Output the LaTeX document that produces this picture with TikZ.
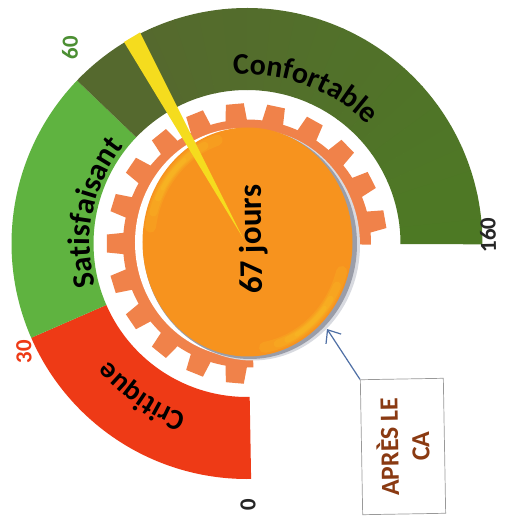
\documentclass[tikz,border=0pt]{standalone}
\usepackage{fontspec}
\setmainfont{Carlito}
\usetikzlibrary{decorations.text,arrows.meta,shapes.geometric}
\definecolor{gcrit}{HTML}{EE3A16}
\definecolor{gsat}{HTML}{5FB340}
\definecolor{gdarkA}{HTML}{55692E}
\definecolor{gdarkB}{HTML}{4D7A24}
\definecolor{gear}{HTML}{F0824A}
\definecolor{disc}{HTML}{F7931E}
\definecolor{needle}{HTML}{F5DC1E}
\definecolor{capt}{HTML}{8A3A12}
\definecolor{arrowc}{HTML}{4F6FA5}
\definecolor{shadowA}{HTML}{D8DAE0}
\definecolor{shadowB}{HTML}{9A9DA8}
\definecolor{glow}{HTML}{FBD22A}
\tikzset{
  x=1pt,y=1pt,
  curved/.style={decorate,decoration={text along path,text align={center},text={#1}}},
  numlabel/.style={font=\bfseries\fontsize{23}{23}\selectfont,rotate=91,inner sep=0pt},
}
\newcommand{\sector}[3]{\fill[#1] (#2:235.5) arc[start angle=#2,end angle=#3,radius=235.5] -- (#3:153.5) arc[start angle=#3,end angle=#2,radius=153.5] -- cycle;}
\newcommand{\rimglow}[3]{\draw[glow,line width=#3pt,opacity=.16,line cap=round] (0.5,1.5) ++(#1:98 and 107) arc[start angle=#1,end angle=#2,x radius=98,y radius=107];}
\begin{document}
\begin{tikzpicture}
\useasboundingbox (-247,-272.5) rectangle (272,243.5);
\fill[white] (-247,-272.5) rectangle (272,243.5);
\sector{gcrit}{271}{203.6}
\sector{gsat}{203.6}{136.2}
\sector{gdarkA}{136.2}{120}
\foreach \a [evaluate=\a as \p using {(120-\a)/119*100}, evaluate=\a as \b using {\a-6.2}] in {120,114,...,6}{
  \sector{gdarkB!\p!gdarkA}{\a}{\b}
}
% gear
\fill[gear] (-0.5:124) arc[start angle=-0.5,end angle=273,radius=124] -- (273:105) arc[start angle=273,end angle=-0.5,radius=105] -- cycle;
\foreach \a in {10,27,...,265}{
  \fill[gear,rotate=\a] (120,-11) -- (140,-9) -- (140,9) -- (120,11) -- cycle;
}
% white gap and shadow under the disc
\fill[white] (-4,1) ellipse[x radius=108,y radius=114.5];
\fill[shadowA] (5.5,-1.5) ellipse[x radius=107.5,y radius=115.5];
\fill[shadowB] (3,-0.5) ellipse[x radius=107,y radius=115];
% disc
\node[ellipse,minimum width=210pt,minimum height=229pt,inner sep=0pt,fill=disc] (dial) at (0.5,1.5) {};
% rim highlights
\foreach \s/\e/\w in {108/172/11,116/164/8,124/156/6,130/150/4}{\rimglow{\s}{\e}{\w}}
\foreach \s/\e/\w in {-80/-16/11,-72/-24/8,-66/-32/6,-60/-38/4}{\rimglow{\s}{\e}{\w}}
% needle
\fill[needle] (-123,201.5) -- (-107,211) -- (-4,5.5) -- cycle;
% band texts
\path[curved={|\bfseries\fontsize{30}{30}\selectfont|Confortable}] (97:169) arc[start angle=97,end angle=42,radius=169];
\path[curved={|\bfseries\fontsize{31}{31}\selectfont|Satisfaisant}] (199:157) arc[start angle=199,end angle=138,radius=157];
\path[curved={|\bfseries\fontsize{29}{29}\selectfont|Critique}] (254:181) arc[start angle=254,end angle=217,radius=181];
% scale labels
\node[numlabel,text=gsat!80!black] (n60) at (-177,196) {60};
\node[numlabel,text=gcrit] (n30) at (-223,-108.5) {30};
\node[numlabel,text=black!85] (n0) at (1,-261.5) {0};
\node[numlabel,text=black!85] (n160) at (241,8.5) {160};
% centre value
\node[rotate=91,font=\bfseries\fontsize{33}{33}\selectfont,inner sep=0pt] (val) at (6,4) {67 jours};
% caption
\node[draw=gray!80,line width=0.7pt,rotate=91,minimum width=135pt,minimum height=83pt,inner sep=0pt,align=center,text=capt,font=\bfseries\fontsize{26}{31}\selectfont] (cap) at (156,-203) {APRÈS LE\\CA};
\coordinate (tip) at (80,-85.5);
\draw[arrowc,line width=1.2pt,-{Straight Barb[length=11pt,width=18pt]}] (cap.north east) -- (tip);
\end{tikzpicture}
\end{document}
